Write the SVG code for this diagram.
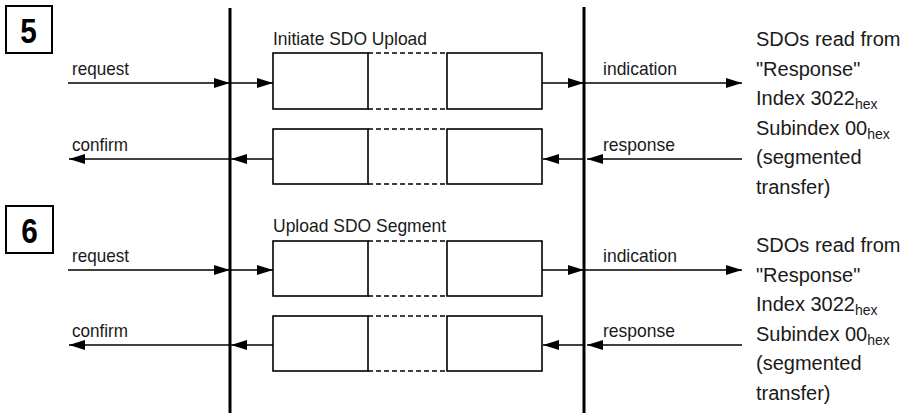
<svg xmlns="http://www.w3.org/2000/svg" width="915" height="415" viewBox="0 0 915 415">
<style>
.lbl{font-family:"Liberation Sans",Arial,sans-serif;font-size:19px;fill:#1a1a1a}
.note{font-family:"Liberation Sans",Arial,sans-serif;font-size:20px;fill:#1a1a1a}
.sub{font-size:14px}
.num{font-family:"Liberation Sans",Arial,sans-serif;font-size:35px;font-weight:bold;fill:#000}
.frame{fill:none;stroke:#000;stroke-width:2}
.box{fill:#fff;stroke:#000;stroke-width:1.6}
.dash{fill:none;stroke:#000;stroke-width:1.6;stroke-dasharray:5,3}
.bus{stroke:#000;stroke-width:3;fill:none}
.arr{stroke:#000;stroke-width:1.6;fill:none;marker-end:url(#ah)}
</style>
<defs>
<marker id="ah" markerUnits="userSpaceOnUse" markerWidth="17" markerHeight="10" refX="16" refY="5" orient="auto">
<path d="M0,0 L16,5 L0,10 z" fill="#000"/>
</marker>
</defs>

<g id="step5">
<rect class="frame" x="6" y="6" width="46" height="47"/>
<text class="num" text-anchor="middle" transform="translate(28.5,43) scale(0.85,1)">5</text>
</g>
<g id="step6">
<rect class="frame" x="6" y="206" width="47" height="47"/>
<text class="num" text-anchor="middle" transform="translate(29.5,243) scale(0.85,1)">6</text>
</g>

<g id="buses">
<line class="bus" x1="230" y1="8" x2="230" y2="413"/>
<line class="bus" x1="584" y1="7" x2="584" y2="413"/>
</g>

<g id="sdo1-title"><text class="lbl" x="273" y="45" textLength="154" lengthAdjust="spacingAndGlyphs">Initiate SDO Upload</text></g>
<g id="sdo1-req">
<rect class="box" x="273" y="53" width="95" height="56"/>
<path class="dash" d="M368,53 H447 M368,109 H447"/>
<rect class="box" x="447" y="53" width="95" height="56"/>
</g>
<g id="sdo1-resp">
<rect class="box" x="273" y="129" width="95" height="55"/>
<path class="dash" d="M368,129 H447 M368,184 H447"/>
<rect class="box" x="447" y="129" width="95" height="55"/>
</g>

<g id="sdo2-title"><text class="lbl" x="273" y="232" textLength="173" lengthAdjust="spacingAndGlyphs">Upload SDO Segment</text></g>
<g id="sdo2-req">
<rect class="box" x="273" y="241" width="95" height="55"/>
<path class="dash" d="M368,241 H447 M368,296 H447"/>
<rect class="box" x="447" y="241" width="95" height="55"/>
</g>
<g id="sdo2-resp">
<rect class="box" x="273" y="316" width="95" height="55"/>
<path class="dash" d="M368,316 H447 M368,371 H447"/>
<rect class="box" x="447" y="316" width="95" height="55"/>
</g>

<g id="connectors">
<path class="arr" d="M68,83 H230"/>
<path class="arr" d="M230,83 H273"/>
<path class="arr" d="M542,83 H584"/>
<path class="arr" d="M584,83 H742"/>
<path class="arr" d="M273,159 H231"/>
<path class="arr" d="M230,159 H69"/>
<path class="arr" d="M742,159 H587"/>
<path class="arr" d="M584,159 H543"/>

<path class="arr" d="M68,270 H230"/>
<path class="arr" d="M230,270 H273"/>
<path class="arr" d="M542,270 H584"/>
<path class="arr" d="M584,270 H742"/>
<path class="arr" d="M273,345 H231"/>
<path class="arr" d="M230,345 H69"/>
<path class="arr" d="M742,345 H587"/>
<path class="arr" d="M584,345 H543"/>
</g>

<g id="labels">
<text class="lbl" x="72" y="75" textLength="57" lengthAdjust="spacingAndGlyphs">request</text>
<text class="lbl" x="72" y="151" textLength="56" lengthAdjust="spacingAndGlyphs">confirm</text>
<text class="lbl" x="603" y="75" textLength="74" lengthAdjust="spacingAndGlyphs">indication</text>
<text class="lbl" x="603" y="151" textLength="72" lengthAdjust="spacingAndGlyphs">response</text>
<text class="lbl" x="72" y="262" textLength="57" lengthAdjust="spacingAndGlyphs">request</text>
<text class="lbl" x="72" y="337" textLength="56" lengthAdjust="spacingAndGlyphs">confirm</text>
<text class="lbl" x="603" y="262" textLength="74" lengthAdjust="spacingAndGlyphs">indication</text>
<text class="lbl" x="603" y="337" textLength="72" lengthAdjust="spacingAndGlyphs">response</text>
</g>

<g id="note1">
<text class="note" x="756" y="46">SDOs read from</text>
<text class="note" x="756" y="75.5">"Response"</text>
<text class="note" x="756" y="105">Index 3022<tspan class="sub" dy="4">hex</tspan></text>
<text class="note" x="756" y="134.5">Subindex 00<tspan class="sub" dy="4">hex</tspan></text>
<text class="note" x="756" y="164">(segmented</text>
<text class="note" x="756" y="193.5">transfer)</text>
</g>
<g id="note2">
<text class="note" x="756" y="252">SDOs read from</text>
<text class="note" x="756" y="281.5">"Response"</text>
<text class="note" x="756" y="311">Index 3022<tspan class="sub" dy="4">hex</tspan></text>
<text class="note" x="756" y="340.5">Subindex 00<tspan class="sub" dy="4">hex</tspan></text>
<text class="note" x="756" y="370">(segmented</text>
<text class="note" x="756" y="399.5">transfer)</text>
</g>
</svg>
